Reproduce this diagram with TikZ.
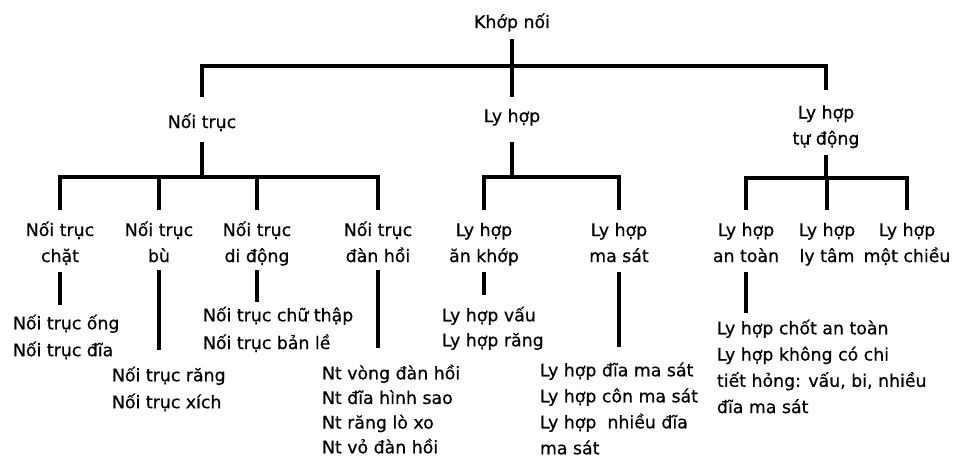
\documentclass[tikz,border=0pt]{standalone}
\usepackage{fontspec}
\setmainfont{DejaVu Sans}
\newfontfamily\lblfont[FakeBold=0.6]{DejaVu Sans}
\newcommand\lstr{\rule[-3.5pt]{0pt}{14.5pt}}
\begin{document}
\begin{tikzpicture}[x=0.75pt,y=-0.75pt,
  lbl/.style={inner sep=0pt,outer sep=0pt,align=center,font=\lblfont\fontsize{13}{19.5}\selectfont},
  lst/.style={inner sep=0pt,outer sep=0pt,align=left,anchor=north west,font=\lblfont\fontsize{13}{#1}\selectfont},
  lst/.default=19.5,
  conn/.style={line width=2.4pt,line join=miter}]
\useasboundingbox (0,0) rectangle (953,457);
% level 0 and 1
\node[lbl] (kn)  at (512,23)    {\lstr Khớp nối};
\node[lbl] (nt)  at (202,123)   {\lstr Nối trục};
\node[lbl] (lh)  at (512,117)   {\lstr Ly hợp};
\node[lbl] (ltd) at (826,126.5) {\lstr Ly hợp\\\lstr tự động};
% level 2
\node[lbl] (c1) at (60,244)  {\lstr Nối trục\\\lstr chặt};
\node[lbl] (c2) at (159,244) {\lstr Nối trục\\\lstr bù};
\node[lbl] (c3) at (257,244) {\lstr Nối trục\\\lstr di động};
\node[lbl] (c4) at (378,244) {\lstr Nối trục\\\lstr đàn hồi};
\node[lbl] (c5) at (484,244) {\lstr Ly hợp\\\lstr ăn khớp};
\node[lbl] (c6) at (619,244) {\lstr Ly hợp\\\lstr ma sát};
\node[lbl] (c7) at (746,244) {\lstr Ly hợp\\\lstr an toàn};
\node[lbl] (c8) at (827,244) {\lstr Ly hợp\\\lstr ly tâm};
\node[lbl] (c9) at (907,244) {\lstr Ly hợp\\\lstr một chiều};
% level 3 lists
\node[lst=20.2] (l1) at (13,314.6)  {\lstr Nối trục ống\\\lstr Nối trục đĩa};
\node[lst=20.2] (l2) at (112,366.6) {\lstr Nối trục răng\\\lstr Nối trục xích};
\node[lst=20.8] (l3) at (203,306.6) {\lstr Nối trục chữ thập\\\lstr Nối trục bản lề};
\node[lst=18.5] (l4) at (322,364.6) {\lstr Nt vòng đàn hồi\\\lstr Nt đĩa hình sao\\\lstr Nt răng lò xo\\\lstr Nt vỏ đàn hồi};
\node[lst=18.75] (l5) at (442,306.6) {\lstr Ly hợp vấu\\\lstr Ly hợp răng};
\node[lst] (l6) at (540,361.6) {\lstr Ly hợp đĩa ma sát\\\lstr Ly hợp côn ma sát\\\lstr Ly hợp\ \ nhiều đĩa\\\lstr ma sát};
\node[lst=19.7] (l7) at (717,319.6) {\lstr Ly hợp chốt an toàn\\\lstr Ly hợp không có chi\\\lstr tiết hỏng: vấu, bi, nhiều\\\lstr đĩa ma sát};
% connectors level 0 -> 1
\draw[conn] (kn.south |- 0,39) -- (lh.north |- 0,97);
\draw[conn] (nt.north |- 0,97) -- (nt.north |- 0,66) -- (ltd.north |- 0,66) -- (ltd.north |- 0,90);
% Noi truc -> children
\draw[conn] (nt.south |- 0,142) -- (nt.south |- 0,177);
\draw[conn] (c1.north |- 0,210) -- (c1.north |- 0,177) -- (c4.north |- 0,177) -- (c4.north |- 0,210);
\draw[conn] (c2.north |- 0,177) -- (c2.north |- 0,210);
\draw[conn] (c3.north |- 0,177) -- (c3.north |- 0,210);
% Ly hop -> children
\draw[conn] (lh.south |- 0,142) -- (lh.south |- 0,177);
\draw[conn] (c5.north |- 0,210) -- (c5.north |- 0,177) -- (c6.north |- 0,177) -- (c6.north |- 0,210);
% Ly hop tu dong -> children
\draw[conn] (ltd.south |- 0,155) -- (ltd.south |- 0,178);
\draw[conn] (c7.north |- 0,210) -- (c7.north |- 0,178) -- (c9.north |- 0,178) -- (c9.north |- 0,210);
\draw[conn] (c8.north |- 0,178) -- (c8.north |- 0,210);
% level 2 -> lists
\draw[conn] (c1.south |- 0,272) -- (c1.south |- 0,305);
\draw[conn] (c2.south |- 0,270) -- (c2.south |- 0,350);
\draw[conn] (c3.south |- 0,270) -- (c3.south |- 0,302);
\draw[conn] (c4.south |- 0,270) -- (c4.south |- 0,348);
\draw[conn] (c5.south |- 0,272) -- (c5.south |- 0,295);
\draw[conn] (c6.south |- 0,272) -- (c6.south |- 0,347);
\draw[conn] (c7.south |- 0,272) -- (c7.south |- 0,313);
\end{tikzpicture}
\end{document}
